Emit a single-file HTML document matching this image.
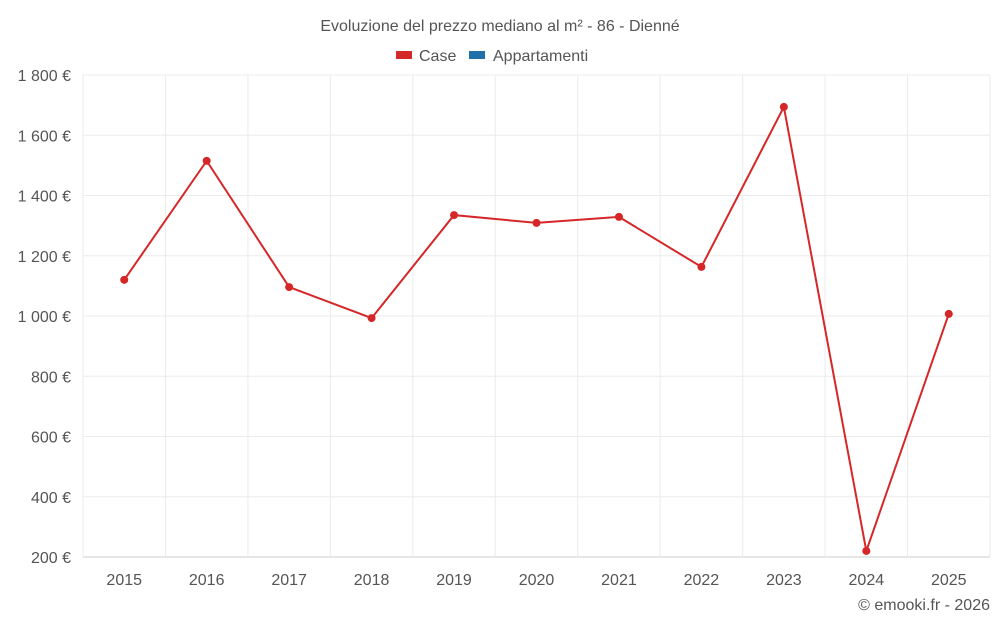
<!DOCTYPE html>
<html><head><meta charset="utf-8"><style>
body{margin:0;background:#fff;font-family:"Liberation Sans",sans-serif;}
svg text{font-family:"Liberation Sans",sans-serif;}
</style></head><body>
<svg id="c" width="1000" height="625">
<text x="500" y="31" text-anchor="middle" font-size="16" fill="#555">Evoluzione del prezzo mediano al m² - 86 - Dienné</text>
<g><rect x="396" y="51" width="16" height="8" fill="#d62728"/><text x="419" y="61" font-size="16" fill="#555">Case</text></g>
<g><rect x="469" y="51" width="16" height="8" fill="#1f6fa8"/><text x="493" y="61" font-size="16" fill="#555">Appartamenti</text></g>
<text x="990" y="610" text-anchor="end" font-size="16" fill="#555">© emooki.fr - 2026</text>
<g id="grid"></g><g id="axes"></g><g id="series"></g>
</svg>
<script>
const years=["2015","2016","2017","2018","2019","2020","2021","2022","2023","2024","2025"];
const caseValues=[1120,1515,1096,993,1335,1309,1329,1163,1694,220,1007];
const yTicks=[200,400,600,800,1000,1200,1400,1600,1800];
const yTickLabels=["200 €","400 €","600 €","800 €","1 000 €","1 200 €","1 400 €","1 600 €","1 800 €"];
const L=83,R=990,T=75,B=557,ymin=200,ymax=1800;
const step=(R-L)/years.length;
const x=i=>L+step*(i+0.5);
const y=v=>B-(v-ymin)/(ymax-ymin)*(B-T);
const NS="http://www.w3.org/2000/svg";
function mk(t,a,p){const e=document.createElementNS(NS,t);for(const k in a)e.setAttribute(k,a[k]);p.appendChild(e);return e;}
const g=document.getElementById('grid'),ax=document.getElementById('axes'),s=document.getElementById('series');
yTicks.forEach((v,i)=>{
 const l=mk('line',{x1:L,x2:R,y1:y(v),y2:y(v),stroke:i==0?'#ccc':'#ebebeb'},g);
 
 
 const t=mk('text',{x:71,y:y(v)+6,'text-anchor':'end','font-size':16,fill:'#555'},ax);
 t.textContent=yTickLabels[i];
 
 
});
for(let i=0;i<=years.length;i++){
 const l=mk('line',{x1:L+step*i,x2:L+step*i,y1:T,y2:B,stroke:'#ebebeb'},g);
 
 
}
years.forEach((yr,i)=>{
 const t=mk('text',{x:x(i),y:585,'text-anchor':'middle','font-size':16,fill:'#555'},ax);
 t.textContent=yr;
 
 
});
const p=mk('polyline',{points:caseValues.map((v,i)=>x(i)+','+y(v)).join(' '),fill:'none',stroke:'#d62728','stroke-width':2},s);


caseValues.forEach((v,i)=>{
 const c=mk('circle',{cx:x(i),cy:y(v),r:4,fill:'#d62728'},s);
 
 
});
</script>
</body></html>
